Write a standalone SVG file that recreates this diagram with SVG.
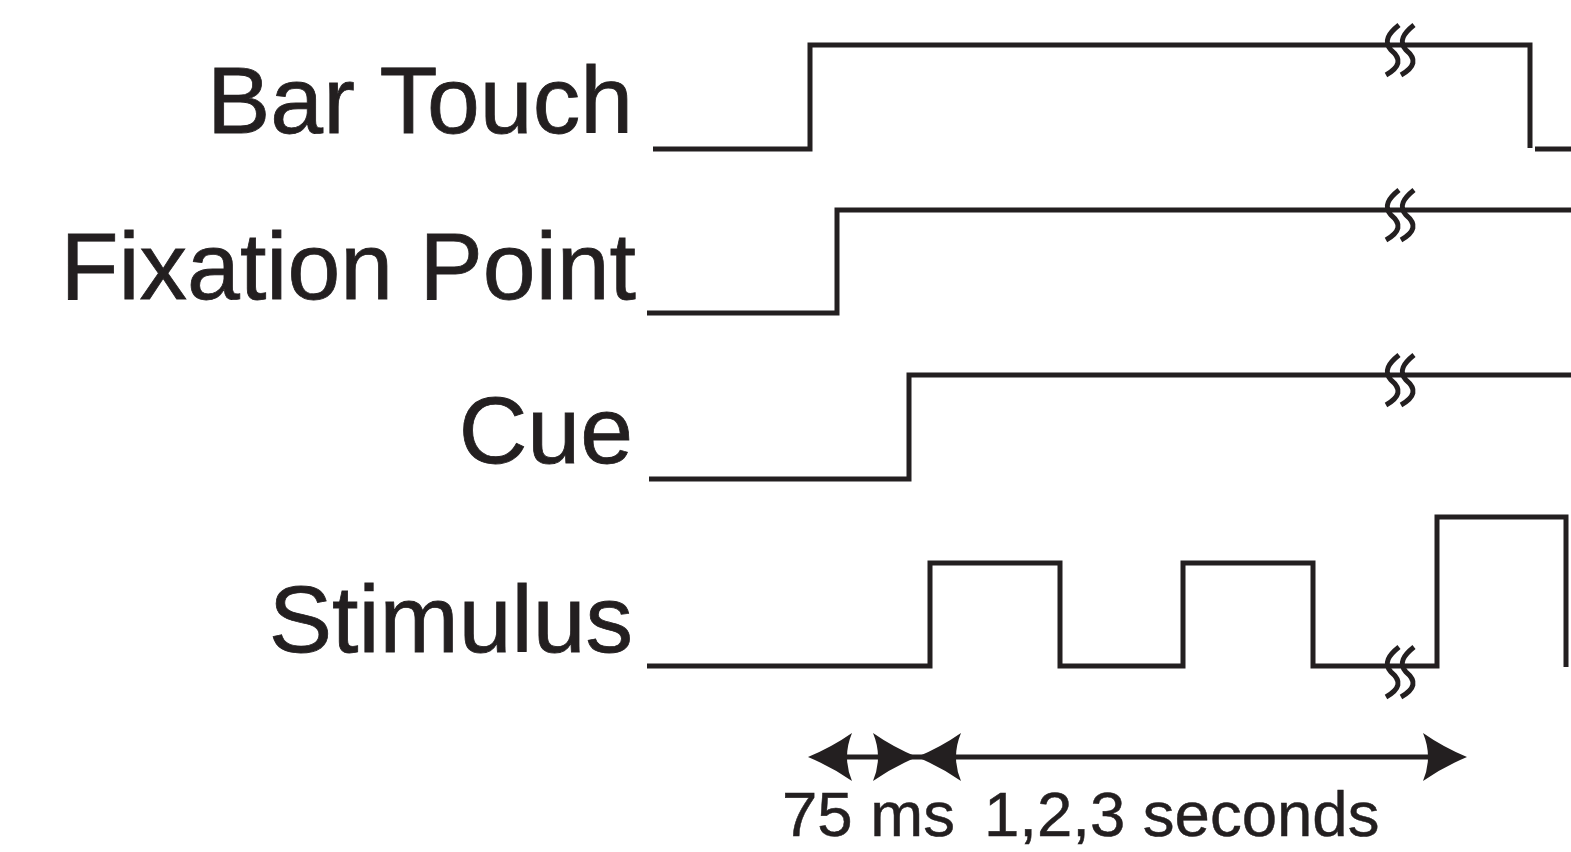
<svg xmlns="http://www.w3.org/2000/svg" width="1571" height="852" viewBox="0 0 1571 852">
<defs>
<style>
.lbl{font-family:"Liberation Sans",Arial,sans-serif;font-size:95px;fill:#231f20;stroke:#231f20;stroke-width:0.8;text-anchor:end}
.tm{font-family:"Liberation Sans",Arial,sans-serif;font-size:63.5px;fill:#231f20;stroke:#231f20;stroke-width:0.5}
.sig{fill:none;stroke:#231f20;stroke-width:5;stroke-linejoin:miter;stroke-linecap:butt}
.brk{fill:none;stroke:#231f20;stroke-width:5;stroke-linecap:butt}
.ah{fill:#231f20;stroke:none}
</style>
<g id="brk">
<path class="brk" d="M14 0 C4 8 -2 16 6 25 C17 34 15 42 1 50"/>
<path class="brk" d="M29 0 C19 8 13 16 21 25 C32 34 30 42 16 50"/>
</g>
<path id="ahL" class="ah" d="M0 0 Q24 -10 44 -24 Q34 0 44 24 Q24 10 0 0 Z"/>
</defs>
<rect width="1571" height="852" fill="#fff"/>
<g id="bar-touch">
<text class="lbl" x="633" y="133">Bar Touch</text>
<path class="sig" d="M653 149 H810 V45 H1530 V148"/>
<path class="sig" d="M1535 149 H1571"/>
<use href="#brk" x="1385" y="25"/>
</g>
<g id="fixation-point">
<text class="lbl" x="636" y="299">Fixation Point</text>
<path class="sig" d="M647 313 H837 V210 H1571"/>
<use href="#brk" x="1385" y="190"/>
</g>
<g id="cue">
<text class="lbl" x="633" y="463">Cue</text>
<path class="sig" d="M649 479 H909 V375 H1571"/>
<use href="#brk" x="1385" y="355"/>
</g>
<g id="stimulus">
<text class="lbl" x="633" y="652">Stimulus</text>
<path class="sig" d="M647 666 H930 V563 H1060 V666 H1183 V563 H1313 V666 H1437 V517 H1566 V667"/>
<use href="#brk" x="1385" y="647"/>
</g>
<g id="timing">
<path class="sig" d="M830 757 H1440"/>
<use href="#ahL" x="808" y="757"/>
<use href="#ahL" x="917" y="757" transform="rotate(180 917 757)"/>
<use href="#ahL" x="917" y="757"/>
<use href="#ahL" x="1467" y="757" transform="rotate(180 1467 757)"/>
<text class="tm" x="782" y="836">75 ms</text>
<text class="tm" x="984" y="836">1,2,3 seconds</text>
</g>
</svg>
